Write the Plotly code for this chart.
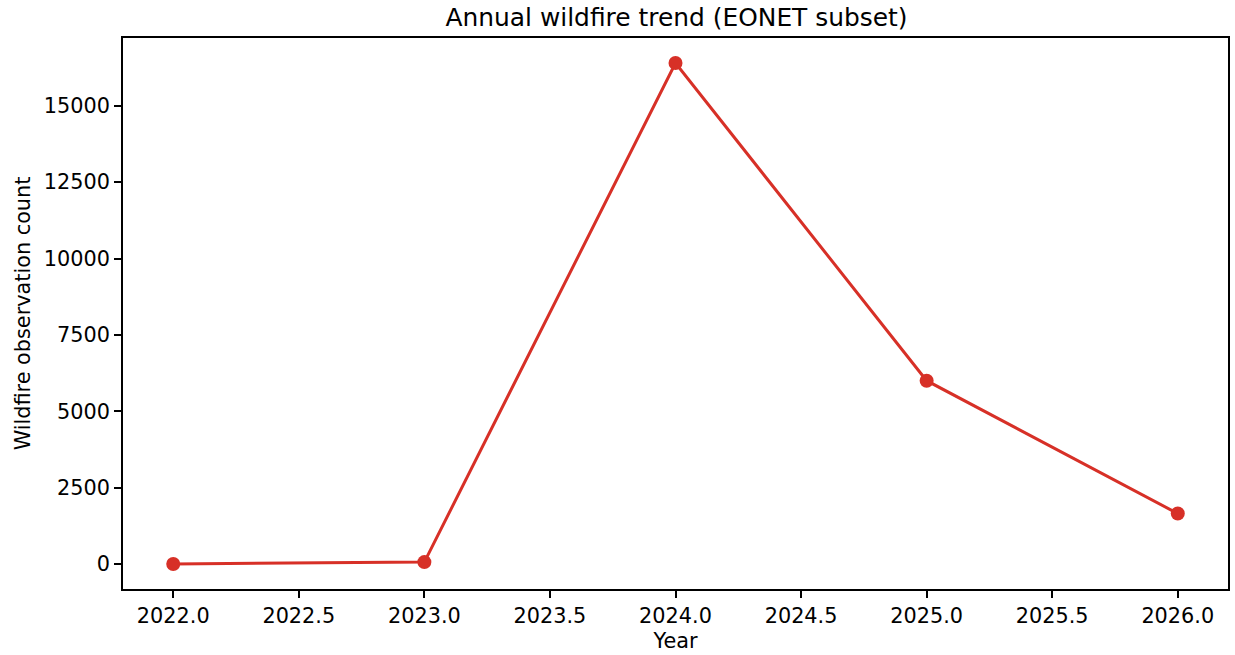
import plotly.graph_objects as go

# Annual wildfire observation counts (EONET subset)
years = [2022, 2023, 2024, 2025, 2026]
counts = [0, 60, 16400, 6000, 1650]

x_ticks = [2022.0, 2022.5, 2023.0, 2023.5, 2024.0, 2024.5, 2025.0, 2025.5, 2026.0]
x_tick_text = [f"{v:.1f}" for v in x_ticks]
y_ticks = [0, 2500, 5000, 7500, 10000, 12500, 15000]

line_color = "#d73027"
font_family = "DejaVu Sans"

fig = go.Figure(
    go.Scatter(
        x=years,
        y=counts,
        mode="lines+markers",
        line=dict(color=line_color, width=3),
        marker=dict(color=line_color, size=14),
    )
)

x_span = max(years) - min(years)
y_span = max(counts) - min(counts)

axis_common = dict(
    showline=True,
    linecolor="black",
    linewidth=1.6,
    mirror=True,
    ticks="outside",
    ticklen=7,
    tickwidth=1.6,
    tickcolor="black",
    showgrid=False,
    zeroline=False,
    tickfont=dict(family=font_family, size=20.8, color="black"),
)

fig.update_layout(
    width=1235,
    height=655,
    paper_bgcolor="white",
    plot_bgcolor="white",
    margin=dict(l=123, r=5, t=38, b=66),
    showlegend=False,
    font=dict(family=font_family, color="black"),
    title=dict(
        text="Annual wildfire trend (EONET subset)",
        x=(123 + 1230) / 2 / 1235,
        xanchor="center",
        y=1 - 17 / 655,
        yanchor="middle",
        font=dict(family=font_family, size=24.9, color="black"),
    ),
    xaxis=dict(
        **axis_common,
        range=[min(years) - 0.05 * x_span, max(years) + 0.05 * x_span],
        tickvals=x_ticks,
        ticktext=x_tick_text,
        title=dict(text="Year", font=dict(family=font_family, size=20.8), standoff=7),
    ),
    yaxis=dict(
        **axis_common,
        range=[min(counts) - 0.05 * y_span, max(counts) + 0.05 * y_span],
        tickvals=y_ticks,
        ticktext=[str(v) for v in y_ticks],
        title=dict(text="Wildfire observation count", font=dict(family=font_family, size=20.8), standoff=8),
    ),
)

fig.write_html("out.html")
